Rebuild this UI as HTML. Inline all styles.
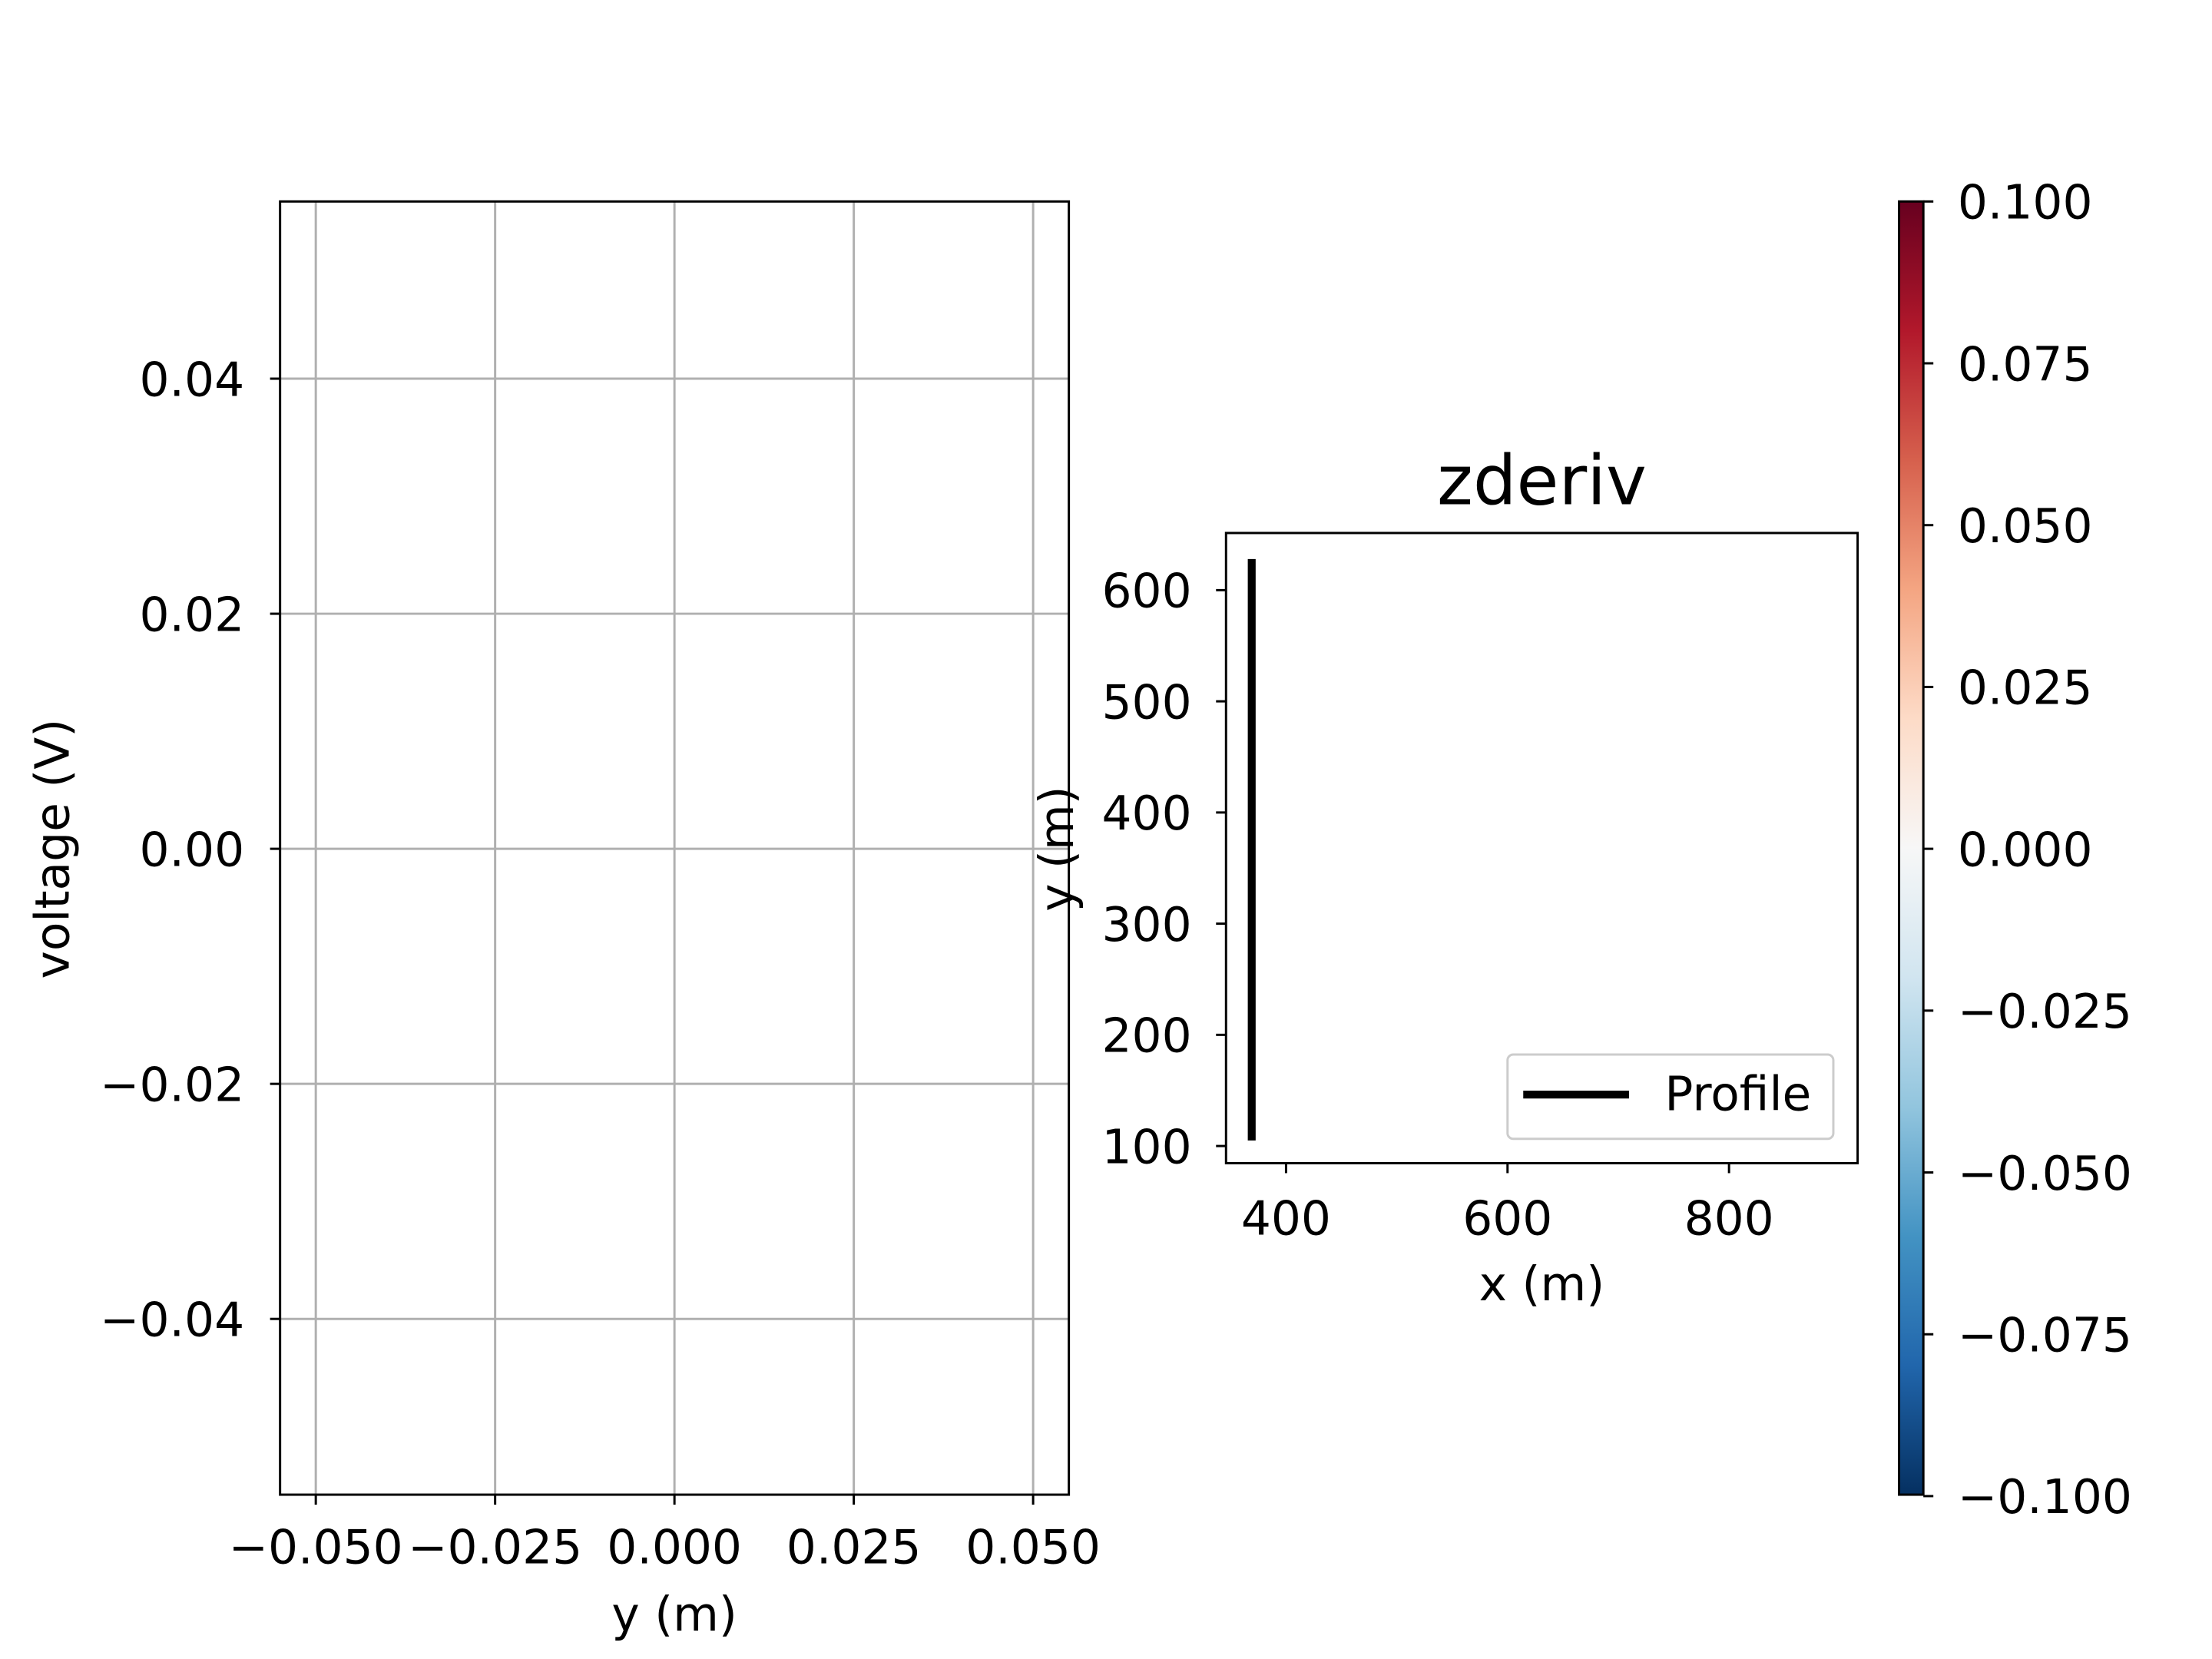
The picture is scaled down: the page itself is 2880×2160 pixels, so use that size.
<!DOCTYPE html>
<html><head><meta charset="utf-8"><style>
html,body{margin:0;padding:0;background:#fff;}
svg{display:block;font-family:"DejaVu Sans","Liberation Sans",sans-serif;}
</style></head><body>
<svg id="fig" width="2880" height="2160" viewBox="0 0 1548 1161" xmlns="http://www.w3.org/2000/svg">
<defs>
<linearGradient id="rdbu" x1="0" y1="1" x2="0" y2="0">
<stop offset="0" stop-color="#053061"/><stop offset="0.1" stop-color="#2166ac"/><stop offset="0.2" stop-color="#4393c3"/><stop offset="0.3" stop-color="#92c5de"/><stop offset="0.4" stop-color="#d1e5f0"/><stop offset="0.5" stop-color="#f7f7f7"/><stop offset="0.6" stop-color="#fddbc7"/><stop offset="0.7" stop-color="#f4a582"/><stop offset="0.8" stop-color="#d6604d"/><stop offset="0.9" stop-color="#b2182b"/><stop offset="1" stop-color="#67001f"/>
</linearGradient>
</defs>
<g id="left"></g>
<g id="right"></g>
<g id="cbar"></g>
</svg>
<script>
const leftXTicks=[-0.05,-0.025,0,0.025,0.05];
const leftXLabels=["\u22120.050","\u22120.025","0.000","0.025","0.050"];
const leftYTicks=[0.04,0.02,0,-0.02,-0.04];
const leftYLabels=["0.04","0.02","0.00","\u22120.02","\u22120.04"];
const mapXTicks=[400,600,800];
const mapYTicks=[100,200,300,400,500,600];
const profileX=[369,369];
const profileY=[105,628];
const cbarTicks=[0.1,0.075,0.05,0.025,0,-0.025,-0.05,-0.075,-0.1];
const cbarLabels=["0.100","0.075","0.050","0.025","0.000","\u22120.025","\u22120.050","\u22120.075","\u22120.100"];
const NS="http://www.w3.org/2000/svg";
const FS=33;
function mk(p,t,a,txt){const e=document.createElementNS(NS,t);for(const k in a)e.setAttribute(k,a[k]);if(txt!==undefined)e.textContent=txt;p.appendChild(e);return e;}
const L=document.getElementById('left');
const lx=v=>221+(v+0.05)*(723-221)/0.1, ly=v=>594-v*(594-265)/0.04;
leftXTicks.forEach((v,i)=>{
 const g=mk(L,'line',{x1:lx(v),x2:lx(v),y1:141,y2:1046,stroke:'#b0b0b0','stroke-width':1.6});
 
 mk(L,'line',{x1:lx(v),x2:lx(v),y1:1046,y2:1053,stroke:'#000','stroke-width':1.6});
 const t=mk(L,'text',{x:lx(v),y:1094,'font-size':FS,'text-anchor':'middle'},leftXLabels[i]);
 
});
leftYTicks.forEach((v,i)=>{
 const g=mk(L,'line',{x1:196,x2:748,y1:ly(v),y2:ly(v),stroke:'#b0b0b0','stroke-width':1.6});
 
 mk(L,'line',{x1:189,x2:196,y1:ly(v),y2:ly(v),stroke:'#000','stroke-width':1.6});
 const t=mk(L,'text',{x:171,y:ly(v)+12,'font-size':FS,'text-anchor':'end'},leftYLabels[i]);
 
});
mk(L,'rect',{x:196,y:141,width:552,height:905,fill:'none',stroke:'#000','stroke-width':1.6});
let t=mk(L,'text',{x:472,y:1141,'font-size':FS,'text-anchor':'middle'},'y (m)');

t=mk(L,'text',{x:48,y:594,'font-size':FS,'text-anchor':'middle',transform:'rotate(-90 48 594)'},'voltage (V)');

const R=document.getElementById('right');
const rx=v=>900+(v-400)*(1210-900)/400, ry=v=>802-(v-100)*(802-413)/500;
mk(R,'rect',{x:858,y:373,width:442,height:441,fill:'#fff',stroke:'#000','stroke-width':1.6});
mapXTicks.forEach(v=>{
 mk(R,'line',{x1:rx(v),x2:rx(v),y1:814,y2:821,stroke:'#000','stroke-width':1.6});
 const e=mk(R,'text',{x:rx(v),y:864,'font-size':FS,'text-anchor':'middle'},String(v));
 
});
mapYTicks.forEach(v=>{
 mk(R,'line',{x1:851,x2:858,y1:ry(v),y2:ry(v),stroke:'#000','stroke-width':1.6});
 const e=mk(R,'text',{x:834,y:ry(v)+12,'font-size':FS,'text-anchor':'end'},String(v));
 
});
const pl=mk(R,'line',{x1:rx(profileX[0]),x2:rx(profileX[1]),y1:ry(profileY[0]),y2:ry(profileY[1]),stroke:'#000','stroke-width':5.5});

t=mk(R,'text',{x:1079,y:353,'font-size':48,'text-anchor':'middle'},'zderiv');

t=mk(R,'text',{x:1079,y:910,'font-size':FS,'text-anchor':'middle'},'x (m)');

t=mk(R,'text',{x:751,y:594,'font-size':FS,'text-anchor':'middle',transform:'rotate(-90 751 594)'},'y (m)');

const lg=mk(R,'g',{});

mk(lg,'rect',{x:1055,y:738,width:228,height:59,rx:4,fill:'#fff',stroke:'#ccc','stroke-width':1.6});
mk(lg,'line',{x1:1066,x2:1140,y1:766,y2:766,stroke:'#000','stroke-width':5.5});
mk(lg,'text',{x:1165,y:777,'font-size':FS},'Profile');
const C=document.getElementById('cbar');
const cy=v=>594-v*(594-141)/0.1;
mk(C,'rect',{x:1329,y:141,width:17,height:905,fill:'url(#rdbu)',stroke:'#000','stroke-width':1.6});
cbarTicks.forEach((v,i)=>{
 mk(C,'line',{x1:1346,x2:1353,y1:cy(v),y2:cy(v),stroke:'#000','stroke-width':1.6});
 const e=mk(C,'text',{x:1370,y:cy(v)+12,'font-size':FS},cbarLabels[i]);
 
});
</script>
</body></html>
